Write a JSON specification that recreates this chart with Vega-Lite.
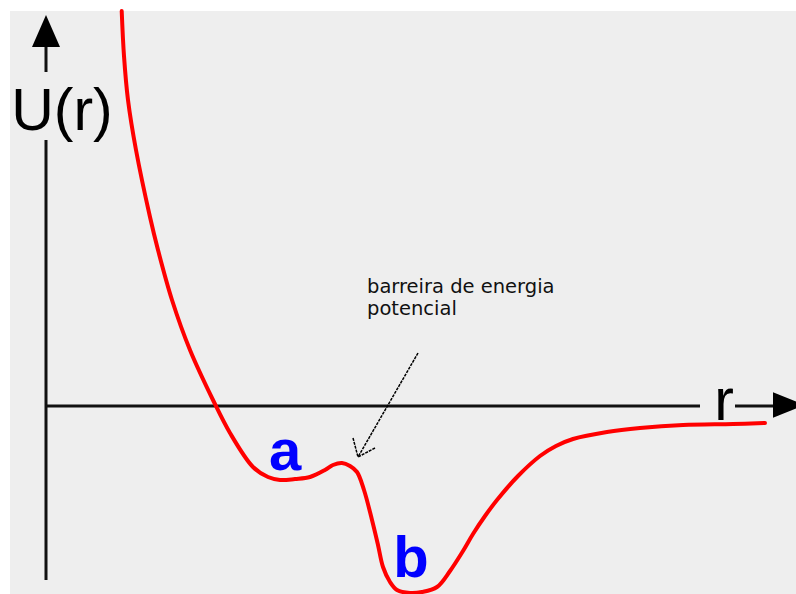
{
  "$schema": "https://vega.github.io/schema/vega-lite/v6.json",
  "width": 796,
  "height": 594,
  "autosize": {"type": "none"},
  "padding": 0,
  "background": "#ffffff",
  "config": {"view": {"stroke": null}},
  "datasets": {
    "panel": [{"r0": 10, "r1": 796, "u0": 395, "u1": -188}],
    "axes": [
      {"r": 46, "r2": 46, "u": 359, "u2": 334},
      {"r": 46, "r2": 46, "u": 266, "u2": -174},
      {"r": 45, "r2": 700, "u": 0, "u2": 0},
      {"r": 735, "r2": 775, "u": 0, "u2": 0}
    ],
    "potential": [
      {"r": 121.7, "U": 395},
      {"r": 124, "U": 350},
      {"r": 128, "U": 306},
      {"r": 136, "U": 256},
      {"r": 150, "U": 189},
      {"r": 158, "U": 156},
      {"r": 172, "U": 106},
      {"r": 190, "U": 56},
      {"r": 213, "U": 6},
      {"r": 230, "U": -27},
      {"r": 253, "U": -61},
      {"r": 268, "U": -71},
      {"r": 280, "U": -74},
      {"r": 295, "U": -73},
      {"r": 310, "U": -71},
      {"r": 325, "U": -64},
      {"r": 333, "U": -59},
      {"r": 342, "U": -57},
      {"r": 350, "U": -60},
      {"r": 357, "U": -66},
      {"r": 364, "U": -84},
      {"r": 372, "U": -114},
      {"r": 378, "U": -139},
      {"r": 383, "U": -161},
      {"r": 390, "U": -176},
      {"r": 397, "U": -184},
      {"r": 410, "U": -187},
      {"r": 422, "U": -186},
      {"r": 437, "U": -181},
      {"r": 450, "U": -165},
      {"r": 463, "U": -145},
      {"r": 473, "U": -128},
      {"r": 485, "U": -110},
      {"r": 497, "U": -94},
      {"r": 518, "U": -70},
      {"r": 540, "U": -50},
      {"r": 556, "U": -40},
      {"r": 573, "U": -33},
      {"r": 607, "U": -26},
      {"r": 640, "U": -22},
      {"r": 683, "U": -19},
      {"r": 733, "U": -18},
      {"r": 765, "U": -17}
    ],
    "pointer": [
      {"r": 418, "r2": 358, "u": 53, "u2": -51},
      {"r": 353, "r2": 358, "u": -32, "u2": -51},
      {"r": 375, "r2": 358, "u": -42, "u2": -51}
    ]
  },
  "layer": [
    {
      "data": {"name": "panel"},
      "mark": {"type": "rect", "fill": "#eeeeee"},
      "encoding": {
        "x": {"field": "r0", "type": "quantitative", "scale": {"domain": [0, 796], "nice": false, "zero": false}, "axis": null},
        "x2": {"field": "r1"},
        "y": {"field": "u0", "type": "quantitative", "scale": {"domain": [-188, 406], "nice": false, "zero": false}, "axis": null},
        "y2": {"field": "u1"}
      }
    },
    {
      "data": {"name": "axes"},
      "mark": {"type": "rule", "color": "#111111", "strokeWidth": 3},
      "encoding": {
        "x": {"field": "r", "type": "quantitative"},
        "x2": {"field": "r2"},
        "y": {"field": "u", "type": "quantitative"},
        "y2": {"field": "u2"}
      }
    },
    {
      "data": {"values": [{"r": 46, "U": 375}]},
      "mark": {"type": "point", "shape": "M0,-1L0.875,1L-0.875,1Z", "size": 1024, "filled": true, "color": "#000000", "opacity": 1},
      "encoding": {
        "x": {"field": "r", "type": "quantitative"},
        "y": {"field": "U", "type": "quantitative"}
      }
    },
    {
      "data": {"values": [{"r": 789, "U": 1}]},
      "mark": {"type": "point", "shape": "M1,0L-1,0.8L-1,-0.8Z", "size": 1024, "filled": true, "color": "#000000", "opacity": 1},
      "encoding": {
        "x": {"field": "r", "type": "quantitative"},
        "y": {"field": "U", "type": "quantitative"}
      }
    },
    {
      "data": {"name": "potential"},
      "mark": {"type": "line", "color": "#ff0000", "strokeWidth": 4, "interpolate": "catmull-rom", "strokeCap": "round"},
      "encoding": {
        "x": {"field": "r", "type": "quantitative"},
        "y": {"field": "U", "type": "quantitative"}
      }
    },
    {
      "data": {"name": "pointer"},
      "mark": {"type": "rule", "color": "#000000", "strokeWidth": 1.5, "strokeDash": [3, 1]},
      "encoding": {
        "x": {"field": "r", "type": "quantitative"},
        "x2": {"field": "r2"},
        "y": {"field": "u", "type": "quantitative"},
        "y2": {"field": "u2"}
      }
    },
    {
      "data": {"values": [
        {"r": 62, "U": 276, "label": "U(r)"},
        {"r": 724, "U": -14, "label": "r"}
      ]},
      "mark": {"type": "text", "font": "Liberation Sans", "fontSize": 59, "color": "#000000", "align": "center", "baseline": "alphabetic"},
      "encoding": {
        "x": {"field": "r", "type": "quantitative"},
        "y": {"field": "U", "type": "quantitative"},
        "text": {"field": "label"}
      }
    },
    {
      "data": {"values": [
        {"r": 285, "U": -64, "label": "a"},
        {"r": 411, "U": -171, "label": "b"}
      ]},
      "mark": {"type": "text", "font": "Liberation Sans", "fontSize": 58, "fontWeight": "bold", "color": "#0000ff", "align": "center", "baseline": "alphabetic"},
      "encoding": {
        "x": {"field": "r", "type": "quantitative"},
        "y": {"field": "U", "type": "quantitative"},
        "text": {"field": "label"}
      }
    },
    {
      "data": {"values": [
        {"r": 367, "U": 113, "label": "barreira de energia"},
        {"r": 367, "U": 91, "label": "potencial"}
      ]},
      "mark": {"type": "text", "font": "DejaVu Sans", "fontSize": 19.5, "color": "#111111", "align": "left", "baseline": "alphabetic"},
      "encoding": {
        "x": {"field": "r", "type": "quantitative"},
        "y": {"field": "U", "type": "quantitative"},
        "text": {"field": "label"}
      }
    }
  ]
}
